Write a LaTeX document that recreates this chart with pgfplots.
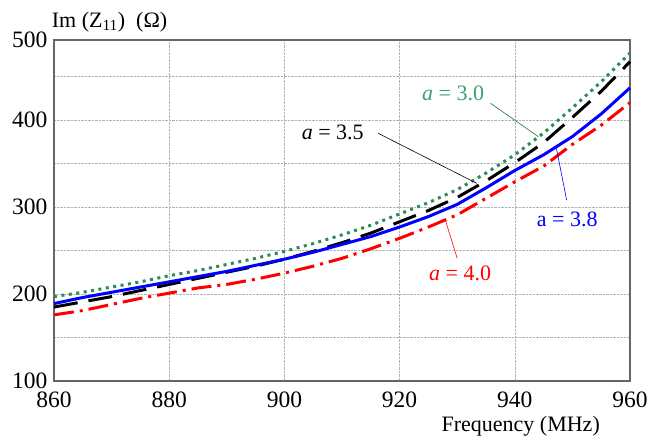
\documentclass[border=0pt]{standalone}
\usepackage{fontspec}
\setmainfont{Liberation Serif}
\newfontfamily\tickfont{Liberation Serif}
\usepackage{pgfplots}
\pgfplotsset{compat=1.18}
\definecolor{cgreen}{RGB}{46,139,87}
\definecolor{ctgreen}{RGB}{60,160,110}
\definecolor{cblue}{RGB}{0,0,255}
\definecolor{cred}{RGB}{255,0,0}
\newcommand{\bigfont}{\fontsize{22}{26}\selectfont}

\begin{document}
\begin{tikzpicture}
\begin{axis}[
  scale only axis, width=576pt, height=341pt,
  xmin=860, xmax=960, ymin=100, ymax=492,
  xtick={860,880,...,960},
  ytick={100,200,300,400},
  minor ytick={150,250,350,450},
  extra y ticks={492}, extra y tick labels={500},
  extra y tick style={grid=none},
  xticklabel={\tickfont\fontsize{23.5}{28}\selectfont\pgfmathprintnumber[assume math mode=true,1000 sep={}]{\tick}},
  yticklabel={\tickfont\fontsize{23.5}{28}\selectfont\pgfmathprintnumber[assume math mode=true,1000 sep={}]{\tick}},
  extra y tick style={yticklabel={\tickfont\fontsize{23.5}{28}\selectfont 500}},
  grid=both,
  grid style={black!30, densely dotted, line width=0.6pt},
  major tick length=0pt, minor tick length=0pt,
  axis line style={black!60, line width=1.3pt},
  xticklabel style={yshift=-7pt},
  yticklabel style={xshift=-3pt},
  clip=false,
]
% a = 3.0
\addplot[cgreen, line width=3pt, dash pattern=on 3pt off 4.5pt] coordinates {
(860,197) (865,202) (870,208) (875,214) (880,221) (885,227) (890,234)
(895,241) (900,249) (905,258) (910,268) (915,279) (920,292) (925,305)
(930,320) (935,339) (940,360) (945,385) (950,414) (955,444) (960,477)};
% a = 3.5
\addplot[black, line width=3pt, dash pattern=on 24pt off 11pt] coordinates {
(860,185) (865,191) (870,197) (875,204) (880,211) (885,218) (890,225)
(895,232) (900,240) (905,249) (910,259) (915,270) (920,283) (925,296)
(930,311) (935,330) (940,351) (945,374) (950,403) (955,433) (960,467)};
% a = 3.8
\addplot[cblue, line width=3pt] coordinates {
(860,189) (865,196) (870,202) (875,208) (880,214) (885,220) (890,226)
(895,233) (900,240) (905,248) (910,257) (915,266) (920,277) (925,289)
(930,303) (935,322) (940,342) (945,360) (950,381) (955,407) (960,437)};
% a = 4.0
\addplot[cred, line width=3pt, dash pattern=on 20pt off 6pt on 3pt off 6pt] coordinates {
(860,176) (865,181) (870,188) (875,195) (880,201) (885,207) (890,211)
(895,217) (900,224) (905,232) (910,241) (915,252) (920,264) (925,277)
(930,291) (935,310) (940,329) (945,347) (950,372) (955,394) (960,420)};

% annotations
\node[ctgreen, font=\bigfont] at (axis cs:929.3,431) {\itshape a\upshape{} = 3.0};
\draw[cgreen!80!black, line width=0.6pt] (axis cs:935.8,419.2) -- (axis cs:944.1,380.8);
\node[black, font=\bigfont] at (axis cs:908.4,386.2) {\itshape a\upshape{} = 3.5};
\draw[black, line width=0.6pt] (axis cs:916.3,384.7) -- (axis cs:933.4,327.2);
\node[cblue, font=\bigfont] at (axis cs:949.1,286.2) {a = 3.8};
\draw[cblue, line width=0.6pt] (axis cs:947.2,368.2) -- (axis cs:949.0,308.0);
\node[cred, font=\bigfont] at (axis cs:930.5,224.1) {\itshape a\upshape{} = 4.0};
\draw[cred, line width=0.6pt] (axis cs:927.9,285.9) -- (axis cs:930.0,241.0);

% axis labels
\node[anchor=east, font=\bigfont, inner sep=0pt] at (axis cs:954.8,48.3) {Frequency (MHz)};
\node[anchor=west, font=\bigfont, inner sep=0pt] at (axis cs:859.6,513) {Im (Z\textsubscript{11})\ \ (Ω)};
\end{axis}
\pgfresetboundingbox
\path (-54pt,-57pt) rectangle (597pt,381pt);
\end{tikzpicture}
\end{document}
